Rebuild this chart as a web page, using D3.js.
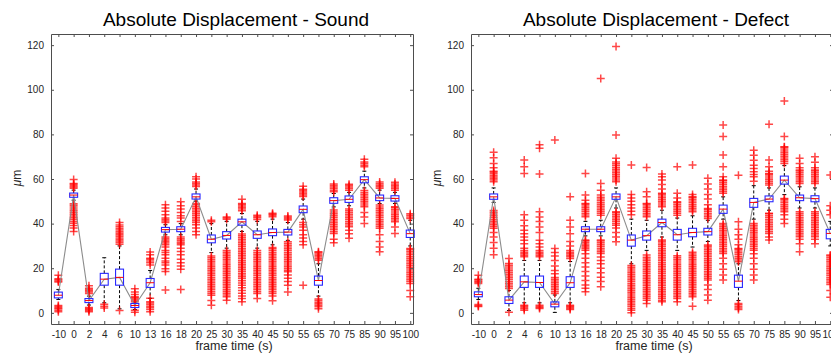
<!DOCTYPE html>
<html>
<head>
<meta charset="utf-8">
<script src="https://cdn.jsdelivr.net/npm/d3@7/dist/d3.min.js"></script>
<style>
  body { margin: 0; background: #fff; }
  svg { display: block; font-family: "Liberation Sans", Arial, Helvetica, sans-serif; }
</style>
</head>
<body>
<svg id="chart" width="831" height="354"></svg>
<script>
"use strict";

// frame times (category labels, shared by both panels)
var cats = ["-10","0","2","4","6","10","13","16","18","20","25","30","35","40","45","50","55","65","70","75","85","90","95","100"];
var yTicks = [0, 20, 40, 60, 80, 100, 120];

// --- Sound ---
var soundMed = [7.9, 52.8, 5.5, 15.1, 15.9, 3.3, 13.5, 37.3, 37.5, 52.0, 33.0, 34.7, 40.8, 35.0, 36.0, 36.2, 46.4, 14.5, 50.3, 50.9, 59.7, 51.5, 51.3, 35.5];
var soundQ1  = [6.7, 51.8, 4.6, 12.4, 12.4, 2.4, 11.4, 36.2, 36.4, 51.0, 31.4, 33.1, 39.3, 33.4, 34.6, 34.9, 44.9, 12.4, 49.1, 49.5, 58.3, 50.3, 50.1, 33.8];
var soundQ3  = [9.3, 53.7, 6.4, 17.7, 19.6, 4.2, 15.4, 38.3, 38.6, 53.3, 34.9, 36.4, 42.0, 36.7, 37.6, 37.4, 47.9, 16.5, 51.6, 52.4, 61.0, 52.8, 52.5, 37.1];
var soundLo  = [6.0, 50.5, 3.5, 4.5, 1.8, 1.5, 6.5, 35.0, 35.0, 50.0, 27.0, 29.0, 36.5, 29.0, 30.5, 32.5, 42.0, 7.5, 47.5, 48.0, 56.0, 49.0, 49.0, 30.0];
var soundHi  = [10.5, 55.0, 7.5, 24.7, 30.0, 4.8, 19.0, 39.5, 40.0, 55.5, 40.0, 41.0, 44.5, 41.0, 42.0, 40.5, 51.0, 22.0, 53.5, 54.0, 63.5, 55.0, 54.0, 41.5];
var soundOut = [
  [0.5,1.2,1.8,2.3,2.8,3.3,13.8,14.3,14.8,15.3,16.8],
  [36.5,38,39.2,40.2,41,41.8,42.6,43.4,44.2,45,45.8,46.6,47.4,48.2,48.9,55.8,56.4,57,57.6,58,59.8],
  [0.5,1,1.5,2,2.4,8.7,9.3,9.9,10.5,11,12.2],
  [2.2,3,3.8],
  [1,30.8,31.5,32.2,32.9,33.6,34.3,35,35.7,36.4,37.1,37.8,38.6,39.4,40.5],
  [0.3,1.2,5,5.6,6.2,6.8,7.2,8.2,9.4,10.8],
  [0.5,1.5,2.3,3,3.7,4.4,5,6.5,21.5,22.5,23.2,24,24.5,26,27.3],
  [10.2,18.5,19.8,21.5,22.5,23.2,24.5,26,27,28,29.5,30.5,31.3,32,32.6,33.3,34,40.5,41.2,41.8,42.5,44,45.5,47,48.5],
  [10.5,19.5,21,22.5,24,26,27.5,29,30.5,31.2,31.8,32.5,33.2,34,41,42.5,43.5,45,46.5,48,49.8],
  [35,36.5,38,39.5,40.5,41.3,42.1,42.9,43.7,44.5,45.3,46.1,46.9,47.7,48.5,49,56.6,57.3,58,58.7,60,61],
  [3.4,5.5,7.9,8.7,9.5,10.3,11.1,11.9,12.7,13.5,14.3,15.1,15.9,16.7,17.5,18.3,19.1,19.9,20.7,21.5,22.3,23.1,23.9,24.7,25.5,40.8,41.5],
  [5.7,7.2,8,8.8,9.6,10.4,11.2,12,12.8,13.6,14.4,15.2,16,16.8,17.6,18.4,19.2,20,20.8,21.6,22.4,23.2,24,24.8,25.6,26.4,27.2,28,42,42.5,43],
  [5,6.4,7.5,8.8,10,11.2,12.4,13.4,14.4,15.4,16.2,17,17.8,18.6,19.4,20.2,21,21.8,22.6,23.4,24.2,25,25.8,26.6,27.4,28.2,29,29.8,30.6,31.4,32.2,33,33.8,34.6,35.4,45.8,46.5,47.2,47.9,48.6,49,50.9],
  [6.4,8.7,9.5,10.3,11.1,11.9,12.7,13.5,14.3,15.1,15.9,16.7,17.5,18.3,19.1,19.9,20.7,21.5,22.3,23.1,23.9,24.7,25.5,26.3,27.1,27.9,41.9,42.6,43.2,43.8],
  [5.4,7.5,8.7,9.5,10.3,11.1,11.9,12.7,13.5,14.3,15.1,15.9,16.7,17.5,18.3,19.1,19.9,20.7,21.5,22.3,23.1,23.9,24.7,25.5,26.3,27.1,27.9,28.7,29.3,43.1,43.7,44.2,44.6],
  [9.4,12.4,14,15.5,17,18.4,19.1,19.9,20.7,21.5,22.3,23.1,23.9,24.7,25.5,26.3,27.1,27.9,28.7,29.5,30.3,31.1,31.9,41.6,42.2,42.8,43.4],
  [12.4,30.5,32,33.5,35,37,38.5,39.5,40.5,52.1,52.8,53.5,54.2,54.9,55.4,56.8],
  [1.8,2.7,3.4,4.1,4.8,5.5,6.2,23.6,24.3,25,25.7,26.4,27.1,27.4],
  [31.4,33,35.6,36.4,37.2,38,38.8,39.6,40.4,41.2,42,42.8,43.6,44.4,45.2,46.1,54.3,55,55.7,56.4,57.1,57.8],
  [33.4,35.5,37,38.6,39.4,40.2,41,41.8,42.6,43.4,44.2,45,45.8,46.6,55,55.7,56.4,57.1,57.7],
  [40.1,43,45,47.6,48.4,49.2,50,50.8,51.6,52.4,53.2,54,54.8,65.5,66.2,66.9,67.6,68.8],
  [27.4,29.5,32,35,37.9,38.7,39.5,40.3,41.1,41.9,42.7,43.5,44.3,45.1,45.9,46.7,47.5,48.3,55.8,56.5,57.2,57.9,58.6],
  [35.6,38.5,40.8,41.6,42.4,43.2,44,44.8,45.6,46.4,47.2,47.6,55,55.7,56.4,57.1,57.8,58.5],
  [7.2,10,13.2,14,14.8,15.6,16.4,17.2,18,18.8,19.6,20.4,21.2,22,22.8,23.6,24.4,25.2,26,26.8,27.6,28.4,28.9,42.3,43,43.7,44.4]
];

// --- Defect ---
var defectMed = [8.2, 52.0, 5.7, 13.9, 13.6, 3.9, 13.5, 37.5, 37.5, 52.0, 32.6, 34.6, 40.5, 35.0, 36.0, 36.4, 46.5, 14.2, 49.5, 51.0, 59.5, 51.6, 51.2, 35.6];
var defectQ1  = [7.2, 50.9, 4.2, 11.4, 11.4, 2.7, 11.4, 36.4, 36.4, 50.9, 29.9, 32.6, 38.6, 32.6, 34.1, 34.9, 44.6, 11.4, 47.3, 49.8, 57.7, 50.3, 49.8, 33.2];
var defectQ3  = [9.4, 53.3, 7.2, 16.5, 16.5, 4.9, 16.2, 38.6, 38.6, 53.3, 34.9, 36.7, 42.0, 37.4, 37.9, 37.9, 48.3, 16.9, 51.3, 52.4, 61.3, 52.8, 52.5, 37.4];
var defectLo  = [6.0, 49.5, 1.0, 4.5, 4.5, 0.2, 4.5, 34.5, 34.5, 47.0, 22.0, 28.0, 34.0, 28.0, 29.5, 32.0, 42.0, 5.5, 42.0, 46.0, 53.0, 47.0, 47.0, 30.0];
var defectHi  = [11.0, 56.0, 10.0, 23.5, 23.5, 8.0, 23.0, 41.0, 41.5, 56.0, 42.0, 41.5, 46.0, 42.5, 43.5, 41.5, 52.0, 22.0, 57.0, 56.0, 66.0, 56.5, 56.0, 41.0];
var defectOut = [
  [2.8,3.2,3.7,13.2,13.7,14.2,14.7,15.1,16.9],
  [26,29,31.5,34,36,37.9,38.7,39.5,40.3,41.1,41.9,42.7,43.5,44.3,45.1,45.9,58.8,59.5,60.2,60.9,61.6,62.3,63,63.5,65,67,69.5,72],
  [0.3,10.9,11.7,12.5,13.3,14.1,14.9,15.7,16.5,17.3,18.1,18.9,19.7,20.5,21.3,22.1,24.4],
  [1.2,1.8,2.4,3,3.4,25.1,25.8,26.5,27.2,27.9,29,31,32.5,34,35.5,37,39,41.5,44,62.5,65.5,68.5],
  [1.9,2.4,2.9,3.4,25.1,25.8,26.5,27.2,27.9,29.5,31,32.5,36,38.5,41,43,45.3,62.2,73.8,75.3],
  [8.7,9.5,10.3,11.1,11.9,12.7,13.5,14.3,15.1,15.9,17.5,19,21,23.5,25.5,27,28.9,77.5],
  [1.5,2,2.5,3,3.4,24.4,25.1,25.8,26.5,27.2,27.9,30,32,35.5,38.5,41.5,52],
  [9.5,11,12.5,14.5,16.5,18.5,20.5,22.5,24.5,26.5,28.1,28.8,29.5,30.2,30.9,31.6,32.3,32.6,43.1,43.9,44.7,45.5,46.3,47.1,47.9,48.7,49,50.5,52.8,62.5],
  [11.7,14,16,18,20,22,23.5,25,26.6,27.4,28.2,29,29.8,30.6,31.4,32.2,32.6,43.8,44.6,45.4,46.2,47,47.8,48.6,49.4,50.2,51,51.8,52.8,55,58,105],
  [31.9,34,36,38,39.3,40.1,40.9,41.7,42.5,43.3,44.1,44.9,45.3,58.8,59.6,60.4,61.2,62,62.8,63.6,64.4,65.2,66,66.8,67.6,69.3,79.7,119.4],
  [0,1.2,2,2.8,3.6,4.4,5.2,6,6.8,7.6,8.4,9.2,10,10.8,11.6,12.4,13.2,14,14.8,15.6,16.4,17.2,18,18.8,19.6,20.4,21.2,44,45.5,47,48.5,50,51.5,53,66.3],
  [4.2,5.7,6.5,7.3,8.1,8.9,9.7,10.5,11.3,12.1,12.9,13.7,14.5,15.3,16.1,16.9,17.7,18.5,19.3,20.1,20.9,21.7,22.5,23.3,24.1,24.9,25.9,43.1,43.9,44.7,45.5,46.3,47.1,47.9,48.7,49,52,54.3,65.2],
  [5,5.7,6.5,7.3,8.1,8.9,9.7,10.5,11.3,12.1,12.9,13.7,14.5,15.3,16.1,16.9,17.7,18.5,19.3,20.1,20.9,21.7,22.5,23.3,24.1,24.9,25.7,26.5,27.3,28.1,28.9,29.7,30.5,31.3,32.1,32.6,47.6,48.4,49.2,50,50.8,51.6,52.4,53.2,53.6,55.5,57.5,59.5,61,62.2],
  [5,6.4,7.2,8,8.8,9.6,10.4,11.2,12,12.8,13.6,14.4,15.2,16,16.8,17.6,18.4,19.2,20,20.8,21.6,22.4,23.2,24,24.8,25.6,43.8,44.6,45.4,46.2,47,47.8,48.6,49.4,49.8,51.5,53.6,65.5],
  [3,7.2,8,8.8,9.6,10.4,11.2,12,12.8,13.6,14.4,15.2,16,16.8,17.6,18.4,19.2,20,20.8,21.6,22.4,23.2,24,24.8,25.6,26.4,27.2,45.3,46.1,46.9,47.7,48.5,49.3,50.1,50.9,51.7,52,53,66.3],
  [5.7,8,10.5,12.5,14.7,15.5,16.3,17.1,17.9,18.7,19.5,20.3,21.1,21.9,22.7,23.5,24.3,25.1,25.9,26.7,27.5,28.3,29.1,29.9,30.4,42.3,43.1,43.9,44.7,45.5,46.3,46.8,48.5,51,53,55.5,57.8,60.3],
  [14.7,17,19.5,22,24.5,26.6,27.4,28.2,29,29.8,30.6,31.4,32.2,33,33.8,34.6,35.4,36.2,37,37.8,38.6,39.4,40.1,53.6,54.4,55.2,56,56.8,57.6,58.4,59.2,59.5,61,65.5,70.8,79,84.2],
  [1.5,2.2,2.9,3.6,4.2,22.9,23.7,24.5,25.3,26.1,26.9,27.7,28.5,28.9,30.5,33,35,37.5,40.8,61.7],
  [14.7,17,19.5,22,24.5,26.5,28.1,28.9,29.7,30.5,31.3,32.1,32.9,33.7,34.5,35.3,36.1,36.9,37.7,38.5,39.3,40.1,59,61,62,63.2,64.7,66.2,68.4,70.6,72.9],
  [32.6,34,35.6,36.4,37.2,38,38.8,39.6,40.4,41.2,42,42.8,43.6,44.4,44.6,57.3,58.1,58.9,59.7,60.5,61.3,62.1,62.5,63.5,65.5,68.5,84.5],
  [40.1,42,44,45.3,46.1,46.9,47.7,48.5,49.3,50.1,50.9,51.3,67,67.8,68.6,69.4,70.2,71,71.8,72.6,73.4,74.2,74.5,79,95],
  [27.4,31,33,34.1,34.9,35.7,36.5,37.3,38.1,38.9,39.7,40.5,41.3,42.1,42.9,43.7,44.5,45.3,58,58.8,59.6,60.4,61.2,62,62.8,63.6,64,65,67,69.3],
  [31,33,34.1,34.9,35.7,36.5,37.3,38.1,38.9,39.7,40.5,41.3,42.1,42.9,43.7,44.5,45.3,58,58.8,59.6,60.4,61.2,62,62.8,63.6,64,65,67.5,70],
  [7,10,12.7,13.5,14.3,15.1,15.9,16.7,17.5,18.3,19.1,19.9,20.7,21.5,22.3,23.1,23.9,24.7,25.5,25.9,44,46,48,61.8]
];

var svg = d3.select('#chart');

var PLOT_W = 362, PLOT_TOP = 34, PLOT_BOTTOM = 324;
var AXIS_COLOR = '#4d4d4d';
var BOX_HALF = 0.26;   // half box width, in category units
var CAP_HALF = 0.13;

var y = d3.scaleLinear().domain([-5, 125]).range([PLOT_BOTTOM, PLOT_TOP]);

var drawPanel = function(left, title, med, q1, q3, lo, hi, out) {
  var x = d3.scaleLinear().domain([-0.48, 23.18]).range([left, left + PLOT_W]);
  var g = svg.append('g');
  var idx = d3.range(cats.length);

  // whiskers
  var wh = g.append('g').attr('stroke', '#000').attr('stroke-width', 1).attr('fill', 'none');
  idx.forEach(function(i) {
    wh.append('line').attr('x1', x(i)).attr('x2', x(i)).attr('y1', y(q3[i])).attr('y2', y(hi[i]))
      .attr('stroke-dasharray', '3,2');
    wh.append('line').attr('x1', x(i)).attr('x2', x(i)).attr('y1', y(q1[i])).attr('y2', y(lo[i]))
      .attr('stroke-dasharray', '3,2');
    wh.append('line').attr('x1', x(i - CAP_HALF)).attr('x2', x(i + CAP_HALF)).attr('y1', y(hi[i])).attr('y2', y(hi[i]));
    wh.append('line').attr('x1', x(i - CAP_HALF)).attr('x2', x(i + CAP_HALF)).attr('y1', y(lo[i])).attr('y2', y(lo[i]));
  });

  // outliers as '+' markers
  var pts = [];
  out.forEach(function(vals, i) {
    vals.forEach(function(v) { pts.push({i: i, v: v}); });
  });
  g.append('g').selectAll('path').data(pts).enter().append('path')
    .attr('d', 'M-4,0H4M0,-4V4')
    .attr('transform', function(d) { return 'translate(' + x(d.i) + ',' + y(d.v) + ')'; })
    .attr('stroke', '#ff0000').attr('stroke-opacity', 0.72).attr('stroke-width', 1.5).attr('fill', 'none');

  // connecting line through the medians
  g.append('path').datum(idx)
    .attr('d', d3.line().x(function(i) { return x(i); }).y(function(i) { return y(med[i]); }))
    .attr('fill', 'none').attr('stroke', '#8c8c8c').attr('stroke-width', 1.1);

  // boxes
  g.append('g').selectAll('rect').data(idx).enter().append('rect')
    .attr('x', function(i) { return x(i - BOX_HALF); })
    .attr('width', function(i) { return x(i + BOX_HALF) - x(i - BOX_HALF); })
    .attr('y', function(i) { return y(q3[i]); })
    .attr('height', function(i) { return y(q1[i]) - y(q3[i]); })
    .attr('fill', 'none').attr('stroke', '#2828ff').attr('stroke-width', 1.1);

  // medians
  g.append('g').selectAll('line').data(idx).enter().append('line')
    .attr('x1', function(i) { return x(i - BOX_HALF); })
    .attr('x2', function(i) { return x(i + BOX_HALF); })
    .attr('y1', function(i) { return y(med[i]); })
    .attr('y2', function(i) { return y(med[i]); })
    .attr('stroke', '#ff0000').attr('stroke-width', 1);

  // axes (box frame with inward ticks)
  var xb = g.append('g').attr('transform', 'translate(0,' + PLOT_BOTTOM + ')')
    .call(d3.axisBottom(x).tickValues(idx).tickFormat(function(i) { return cats[i]; })
      .tickSizeInner(-3).tickSizeOuter(0).tickPadding(6.5));
  var xt = g.append('g').attr('transform', 'translate(0,' + PLOT_TOP + ')')
    .call(d3.axisTop(x).tickValues(idx).tickFormat('').tickSizeInner(-3).tickSizeOuter(0));
  var yl = g.append('g').attr('transform', 'translate(' + left + ',0)')
    .call(d3.axisLeft(y).tickValues(yTicks).tickSizeInner(-3).tickSizeOuter(0).tickPadding(7));
  var yr = g.append('g').attr('transform', 'translate(' + (left + PLOT_W) + ',0)')
    .call(d3.axisRight(y).tickValues(yTicks).tickFormat('').tickSizeInner(-3).tickSizeOuter(0));

  [xb, xt, yl, yr].forEach(function(a) {
    a.select('.domain').attr('stroke', AXIS_COLOR);
    a.selectAll('.tick line').attr('stroke', AXIS_COLOR);
    a.selectAll('.tick text').attr('fill', '#262626').attr('font-size', 10)
      .attr('font-family', '"Liberation Sans", Arial, sans-serif');
  });

  // titles and labels
  g.append('text').attr('x', left + 185).attr('y', 25.5).attr('text-anchor', 'middle')
    .attr('font-size', 19).attr('fill', '#000').text(title);
  g.append('text').attr('x', left + 183).attr('y', 350).attr('text-anchor', 'middle')
    .attr('font-size', 12.5).attr('fill', '#262626').text('frame time (s)');
  var yl2 = g.append('text').attr('transform', 'translate(' + (left - 30) + ',' + 178 + ') rotate(-90)')
    .attr('text-anchor', 'middle').attr('font-size', 12).attr('fill', '#262626');
  yl2.append('tspan').attr('font-style', 'italic').text('\u03BC');
  yl2.append('tspan').text('m');
};

drawPanel(51, 'Absolute Displacement - Sound', soundMed, soundQ1, soundQ3, soundLo, soundHi, soundOut);
drawPanel(471, 'Absolute Displacement - Defect', defectMed, defectQ1, defectQ3, defectLo, defectHi, defectOut);
</script>
</body>
</html>
